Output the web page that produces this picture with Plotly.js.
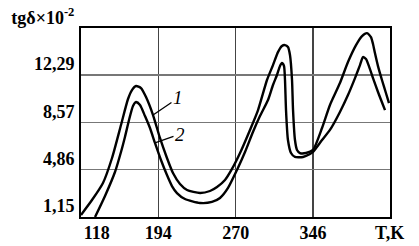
<!DOCTYPE html>
<html>
<head>
<meta charset="utf-8">
<script src="https://cdn.plot.ly/plotly-3.0.1.min.js"></script>
<style>html,body{margin:0;padding:0;background:#fff;}#chart{width:419px;height:246px;}</style>
</head>
<body>
<div id="chart"></div>
<script>
// Curve 1 (upper curve)
var t1 = [118.0,128.8,139.6,148.5,157.3,164.2,168.1,172.1,177.0,181.9,188.8,195.6,202.5,208.4,215.3,222.2,235.0,244.8,251.7,259.5,266.4,274.3,284.1,292.0,300.8,306.7,311.6,315.5,318.5,321.4,323.4,325.4,326.4,328.3,330.3,333.2,339.1,346.0,354.9,362.7,372.5,380.4,388.3,394.2,399.1,403.0,405.0,406.9,409.9,413.8,417.7,420.7];
var v1 = [1.31,2.48,3.82,5.78,8.37,10.41,11.11,11.43,11.27,10.56,9.15,7.35,5.78,4.60,3.74,3.27,3.03,3.19,3.50,4.05,4.92,6.17,7.98,9.54,11.90,13.07,14.09,14.57,14.64,14.49,13.86,11.90,9.54,7.19,6.41,6.17,6.17,6.41,8.13,9.94,11.66,13.31,14.64,15.35,15.58,15.27,14.72,14.01,12.99,11.90,10.88,10.09];
// Curve 2 (lower curve)
var t2 = [131.8,141.6,151.4,157.3,161.2,165.2,169.1,172.1,176.0,180.9,185.8,190.7,196.6,202.5,207.4,212.3,220.2,235.0,246.7,254.6,262.5,271.3,279.2,287.0,293.9,301.8,306.7,310.6,313.6,315.5,317.5,318.5,319.5,321.4,324.4,328.3,336.2,343.1,346.0,354.9,362.7,372.5,380.4,387.3,392.2,395.1,398.1,401.0,405.0,409.9,416.8];
var v2 = [1.15,2.80,4.68,6.25,7.43,8.76,9.86,10.17,9.94,9.07,8.13,6.96,5.62,4.44,3.58,3.03,2.56,2.25,2.33,2.64,3.43,4.84,6.25,7.82,9.07,10.33,11.51,12.29,13.00,13.23,13.00,11.90,9.54,7.19,6.17,5.86,5.86,6.09,6.25,7.19,7.98,9.39,10.72,12.05,13.07,13.70,13.54,12.99,12.05,10.96,9.54];

// Axis ticks
var xTicks = [118, 194, 270, 346, 421.4];
var xTickText = ["\u00a0\u00a0\u00a0\u00a0\u00a0\u00a0\u00a0118", "194", "270", "346", "T,K"];
var yTicks = [1.15, 4.86, 8.57, 12.29, 15.95];
var yTickText = ["1,15", "4,86", "8,57", "12,29", "tgδ×10<sup>-2</sup>"];

// Curve labels: [label, curve point T, curve point V, label T, label V]
var curveLabels = ["1", "2"];
var labelPointT = [188.8, 190.7];
var labelPointV = [9.15, 6.96];
var labelT = [213.3, 215.3];
var labelV = [10.49, 7.66];

var lineStyle = {color: '#000', width: 2.4, shape: 'spline', smoothing: 0.6};
var traces = [
  {x: t1, y: v1, mode: 'lines', line: lineStyle, name: '1', hoverinfo: 'skip'},
  {x: t2, y: v2, mode: 'lines', line: lineStyle, name: '2', hoverinfo: 'skip'}
];

var annotations = curveLabels.map(function (lab, i) {
  return {
    x: labelPointT[i], y: labelPointV[i], xref: 'x', yref: 'y',
    ax: labelT[i], ay: labelV[i], axref: 'x', ayref: 'y',
    text: '<i>' + lab + '</i>', showarrow: true, arrowhead: 0, arrowwidth: 1.3,
    arrowcolor: '#000', standoff: 0, startstandoff: 0,
    font: {family: 'Liberation Serif', size: 19, color: '#000'}
  };
});

var tickFont = {family: 'Liberation Serif', size: 18, color: '#000', weight: 'bold'};

var layout = {
  width: 419, height: 246,
  margin: {l: 81, r: 29, t: 28, b: 29, pad: 0},
  paper_bgcolor: '#fff', plot_bgcolor: '#fff',
  showlegend: false,
  xaxis: {
    range: [118, 421.7], tickvals: xTicks, ticktext: xTickText,
    showgrid: true, gridcolor: '#444', gridwidth: 1.2,
    showline: true, mirror: true, linecolor: '#000', linewidth: 2,
    ticks: '', zeroline: false, tickfont: tickFont, ticklabelstandoff: -2
  },
  yaxis: {
    range: [1.15, 15.98], tickvals: yTicks, ticktext: yTickText,
    showgrid: true, gridcolor: '#777', gridwidth: 1.2,
    showline: true, mirror: true, linecolor: '#000', linewidth: 2,
    ticks: '', zeroline: false, tickfont: tickFont, ticklabelshift: -11, ticklabelstandoff: 1
  },
  annotations: annotations
};

Plotly.newPlot('chart', traces, layout, {staticPlot: true, displayModeBar: false});
</script>
</body>
</html>
